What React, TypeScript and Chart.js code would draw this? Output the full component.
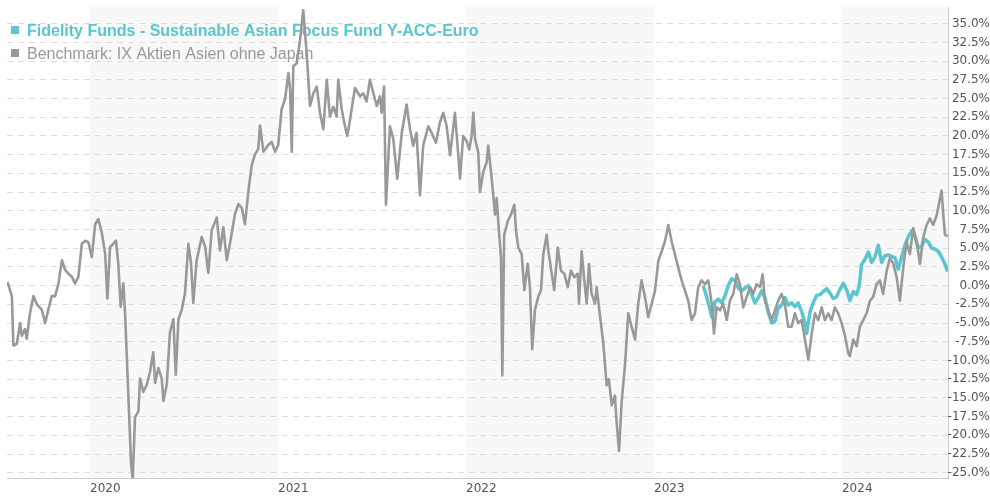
import React, { useEffect, useRef } from 'react';
import { Chart, registerables } from 'chart.js';

Chart.register(...registerables);

const FUND_NAME = 'Fidelity Funds - Sustainable Asian Focus Fund Y-ACC-Euro';
const BENCH_NAME = 'Benchmark: IX Aktien Asien ohne Japan';
const FUND_COLOR = '#5bc6cd';
const BENCH_COLOR = '#999999';

const YEAR_TICKS = [2020, 2021, 2022, 2023, 2024];
const SHADED_YEARS = [2020, 2022, 2024];
const X_MIN = 2019.558;
const X_MAX = 2024.564;
const Y_MIN = -25.7;
const Y_MAX = 37.2;

// [decimal year, % performance]
const BENCHMARK: [number, number][] = [
  [2019.560, 0.5], [2019.584, -1.4], [2019.592, -8.0], [2019.610, -7.8], [2019.628, -5.0], [2019.637, -6.7],
  [2019.654, -5.8], [2019.663, -7.1], [2019.681, -3.6], [2019.699, -1.4], [2019.717, -2.5], [2019.743, -3.2],
  [2019.761, -5.0], [2019.778, -3.2], [2019.796, -1.4], [2019.814, -1.4], [2019.832, 0.3], [2019.850, 3.4],
  [2019.867, 2.1], [2019.885, 1.6], [2019.903, 1.2], [2019.920, 0.3], [2019.938, 1.2], [2019.956, 5.6],
  [2019.974, 6.0], [2019.991, 5.8], [2020.009, 3.8], [2020.027, 8.2], [2020.044, 8.9], [2020.062, 7.1],
  [2020.080, 4.3], [2020.092, -1.7], [2020.106, 5.1], [2020.124, 5.6], [2020.138, 6.0], [2020.150, 2.9],
  [2020.163, -2.8], [2020.177, 0.3], [2020.186, -3.6], [2020.195, -9.3], [2020.207, -16.8], [2020.218, -23.8],
  [2020.227, -25.8], [2020.239, -17.6], [2020.257, -16.8], [2020.266, -12.4], [2020.283, -14.2], [2020.301, -13.3],
  [2020.319, -11.5], [2020.336, -8.9], [2020.346, -13.0], [2020.363, -11.0], [2020.381, -12.4], [2020.390, -15.4],
  [2020.408, -13.2], [2020.425, -6.2], [2020.443, -4.5], [2020.456, -11.9], [2020.470, -4.5], [2020.488, -3.2],
  [2020.505, -1.0], [2020.523, 5.6], [2020.537, 3.0], [2020.549, -2.3], [2020.567, 3.4], [2020.594, 6.5],
  [2020.612, 5.2], [2020.629, 1.7], [2020.647, 7.4], [2020.674, 9.1], [2020.691, 4.7], [2020.709, 7.8],
  [2020.727, 3.4], [2020.744, 5.6], [2020.771, 9.6], [2020.789, 10.9], [2020.807, 10.4], [2020.824, 8.2],
  [2020.842, 12.6], [2020.860, 16.1], [2020.877, 17.5], [2020.895, 18.3], [2020.904, 21.4], [2020.922, 17.9],
  [2020.948, 18.8], [2020.966, 19.2], [2020.984, 17.9], [2021.001, 18.8], [2021.019, 23.6], [2021.037, 24.9],
  [2021.055, 28.4], [2021.064, 26.2], [2021.073, 17.9], [2021.081, 29.3], [2021.099, 29.7], [2021.117, 32.8],
  [2021.134, 36.8], [2021.152, 31.1], [2021.170, 24.0], [2021.188, 25.7], [2021.206, 26.6], [2021.223, 23.1],
  [2021.241, 20.9], [2021.259, 27.5], [2021.276, 22.6], [2021.294, 23.9], [2021.312, 22.6], [2021.320, 27.5],
  [2021.339, 23.5], [2021.356, 21.3], [2021.368, 20.0], [2021.383, 22.2], [2021.409, 26.4], [2021.436, 25.3],
  [2021.453, 25.7], [2021.471, 24.6], [2021.489, 27.5], [2021.507, 25.7], [2021.525, 24.0], [2021.542, 25.3],
  [2021.551, 23.1], [2021.564, 26.6], [2021.574, 10.8], [2021.595, 21.3], [2021.613, 19.6], [2021.634, 14.3],
  [2021.658, 20.4], [2021.684, 24.2], [2021.702, 20.9], [2021.719, 18.7], [2021.737, 20.4], [2021.755, 12.1],
  [2021.772, 18.7], [2021.799, 21.3], [2021.817, 20.4], [2021.840, 19.1], [2021.861, 21.8], [2021.879, 23.1],
  [2021.897, 21.3], [2021.915, 17.4], [2021.941, 23.1], [2021.959, 17.4], [2021.968, 14.3], [2021.985, 20.0],
  [2022.003, 19.3], [2022.017, 18.2], [2022.030, 20.0], [2022.039, 23.1], [2022.048, 19.6], [2022.065, 17.8],
  [2022.074, 12.5], [2022.092, 15.2], [2022.110, 16.5], [2022.118, 18.7], [2022.133, 15.2], [2022.145, 12.1],
  [2022.154, 9.5], [2022.163, 11.7], [2022.175, 7.3], [2022.186, 3.8], [2022.193, -12.0], [2022.203, 6.8],
  [2022.222, 8.6], [2022.239, 9.5], [2022.257, 10.8], [2022.266, 7.3], [2022.278, 5.1], [2022.296, 4.2],
  [2022.310, -0.6], [2022.328, 2.9], [2022.340, -0.2], [2022.352, -8.5], [2022.367, -3.2], [2022.384, -1.5],
  [2022.399, -0.6], [2022.411, 4.2], [2022.429, 6.8], [2022.438, 4.6], [2022.456, 1.6], [2022.469, -0.6],
  [2022.488, 5.1], [2022.505, 2.0], [2022.523, 1.6], [2022.541, -0.2], [2022.558, 2.0], [2022.576, 1.1],
  [2022.594, 1.6], [2022.601, -2.4], [2022.615, 4.6], [2022.629, 0.7], [2022.642, -2.4], [2022.654, 2.9],
  [2022.668, -1.1], [2022.686, -2.4], [2022.695, -0.2], [2022.713, -4.1], [2022.730, -7.6], [2022.748, -13.3],
  [2022.760, -12.5], [2022.775, -16.0], [2022.792, -14.7], [2022.801, -18.2], [2022.814, -22.1], [2022.828, -15.5],
  [2022.846, -10.5], [2022.863, -3.7], [2022.881, -5.5], [2022.899, -7.2], [2022.916, -2.4], [2022.934, 0.7],
  [2022.952, -1.5], [2022.969, -4.2], [2022.988, -2.4], [2023.005, -0.7], [2023.023, 3.3], [2023.041, 4.6],
  [2023.058, 5.9], [2023.076, 8.1], [2023.094, 5.9], [2023.111, 4.2], [2023.129, 2.4], [2023.147, 0.7],
  [2023.165, -0.7], [2023.182, -2.0], [2023.200, -4.6], [2023.218, -3.7], [2023.235, -0.2], [2023.253, 0.7],
  [2023.271, 0.2], [2023.289, 0.7], [2023.307, -2.4], [2023.319, -6.4], [2023.333, -2.9], [2023.351, -3.3],
  [2023.368, -2.4], [2023.387, -4.6], [2023.404, -2.0], [2023.422, -1.1], [2023.440, 1.5], [2023.457, 0.2],
  [2023.475, -2.9], [2023.493, -1.5], [2023.511, -0.2], [2023.528, -1.1], [2023.546, 0.2], [2023.564, -0.2],
  [2023.578, 1.5], [2023.590, -2.0], [2023.608, -3.3], [2023.626, -4.6], [2023.643, -3.3], [2023.661, -2.0],
  [2023.679, -1.1], [2023.697, -2.6], [2023.714, -5.5], [2023.732, -5.5], [2023.750, -3.7], [2023.767, -5.0],
  [2023.785, -4.6], [2023.803, -7.2], [2023.821, -9.9], [2023.839, -6.4], [2023.856, -3.7], [2023.874, -4.6],
  [2023.892, -2.9], [2023.909, -4.6], [2023.927, -3.7], [2023.945, -4.6], [2023.962, -2.9], [2023.980, -3.7],
  [2023.998, -5.0], [2024.016, -6.7], [2024.033, -9.0], [2024.042, -9.4], [2024.060, -7.2], [2024.078, -8.1],
  [2024.095, -5.5], [2024.113, -4.6], [2024.131, -3.7], [2024.149, -2.0], [2024.166, -1.5], [2024.184, 0.2],
  [2024.202, 0.7], [2024.219, -1.1], [2024.238, 2.0], [2024.255, 3.7], [2024.273, 2.9], [2024.291, 1.1],
  [2024.308, -2.0], [2024.326, 2.4], [2024.344, 5.9], [2024.361, 4.2], [2024.379, 7.7], [2024.397, 5.9],
  [2024.415, 2.9], [2024.432, 6.4], [2024.450, 8.1], [2024.468, 9.0], [2024.485, 8.1], [2024.504, 9.4],
  [2024.521, 11.6], [2024.530, 12.7], [2024.539, 9.4], [2024.548, 6.8], [2024.564, 6.6],
];

const FUND: [number, number][] = [
  [2023.262, 0.0], [2023.280, -1.5], [2023.298, -3.2], [2023.308, -4.2], [2023.324, -2.2], [2023.342, -1.8],
  [2023.360, -2.3], [2023.377, -1.4], [2023.395, 0.0], [2023.413, 0.9], [2023.431, 0.7], [2023.448, -0.3],
  [2023.466, -0.7], [2023.484, -0.3], [2023.502, 0.0], [2023.520, -1.2], [2023.537, -2.3], [2023.555, -1.6],
  [2023.573, -0.7], [2023.590, -1.6], [2023.608, -3.6], [2023.626, -5.0], [2023.643, -4.8], [2023.661, -3.0],
  [2023.679, -2.6], [2023.697, -1.6], [2023.714, -2.6], [2023.732, -2.3], [2023.750, -2.8], [2023.767, -2.3],
  [2023.785, -3.4], [2023.803, -5.0], [2023.812, -6.4], [2023.830, -3.5], [2023.847, -2.3], [2023.865, -1.3],
  [2023.883, -1.2], [2023.900, -0.8], [2023.918, -0.4], [2023.936, -1.0], [2023.953, -1.7], [2023.971, -1.5],
  [2023.989, -0.5], [2024.007, 0.3], [2024.025, -0.6], [2024.042, -2.0], [2024.060, -0.8], [2024.078, -1.2],
  [2024.092, 0.0], [2024.104, 2.8], [2024.122, 3.5], [2024.140, 4.5], [2024.158, 3.1], [2024.175, 3.8],
  [2024.193, 5.4], [2024.211, 3.1], [2024.228, 4.0], [2024.246, 4.1], [2024.264, 3.9], [2024.282, 3.7],
  [2024.299, 2.2], [2024.317, 3.8], [2024.335, 5.4], [2024.352, 6.5], [2024.370, 7.3], [2024.388, 6.6],
  [2024.405, 5.0], [2024.424, 5.3], [2024.441, 6.2], [2024.459, 5.8], [2024.477, 5.0], [2024.494, 4.9],
  [2024.512, 4.6], [2024.530, 3.8], [2024.548, 2.9], [2024.561, 1.9],
];

const yearBandPlugin = {
  id: 'yearBands',
  beforeDraw(chart: any) {
    const { ctx, chartArea, scales } = chart;
    const x = scales.x;
    ctx.save();
    ctx.fillStyle = '#f8f8f8';
    for (const yr of SHADED_YEARS) {
      const x0 = Math.max(x.getPixelForValue(yr), chartArea.left);
      const x1 = Math.min(x.getPixelForValue(yr + 1), chartArea.right);
      if (x1 > x0) ctx.fillRect(x0, chartArea.top, x1 - x0, chartArea.bottom - chartArea.top);
    }
    ctx.restore();
  },
};

const legendPlugin = {
  id: 'innerLegend',
  beforeDatasetsDraw(chart: any) {
    const ctx = chart.ctx;
    ctx.save();
    ctx.textBaseline = 'alphabetic';
    ctx.textAlign = 'left';
    ctx.fillStyle = FUND_COLOR;
    ctx.fillRect(11, 26, 8, 8);
    ctx.font = 'bold 16px "Liberation Sans", Arial, sans-serif';
    ctx.fillText(FUND_NAME, 27, 36);
    ctx.fillStyle = BENCH_COLOR;
    ctx.fillRect(11, 49, 8, 8);
    ctx.font = '16px "Liberation Sans", Arial, sans-serif';
    ctx.fillText(BENCH_NAME, 27, 59);
    ctx.restore();
  },
};

export default function App() {
  const canvasRef = useRef<HTMLCanvasElement | null>(null);

  useEffect(() => {
    if (!canvasRef.current) return;
    const tickFont = { family: '"DejaVu Sans", Verdana, sans-serif', size: 12 };
    const chart = new Chart(canvasRef.current, {
      type: 'line',
      data: {
        datasets: [
          {
            label: BENCH_NAME,
            data: BENCHMARK.map(([x, y]) => ({ x, y })),
            borderColor: BENCH_COLOR,
            borderWidth: 2.6,
            pointRadius: 0,
            tension: 0,
            fill: false,
            order: 0,
            borderJoinStyle: 'round',
          },
          {
            label: FUND_NAME,
            data: FUND.map(([x, y]) => ({ x, y })),
            borderColor: FUND_COLOR,
            borderWidth: 3.5,
            pointRadius: 0,
            tension: 0,
            fill: false,
            order: 1,
            borderJoinStyle: 'round',
          },
        ],
      },
      options: {
        responsive: false,
        animation: false,
        events: [],
        layout: { padding: { left: 7, right: 0, top: 0, bottom: 0 } },
        plugins: { legend: { display: false }, tooltip: { enabled: false } },
        scales: {
          x: {
            type: 'linear',
            min: X_MIN,
            max: X_MAX,
            afterBuildTicks: (scale: any) => {
              scale.ticks = YEAR_TICKS.map((v) => ({ value: v }));
            },
            afterFit: (scale: any) => {
              scale.height = 22;
            },
            grid: { display: false, drawTicks: false },
            border: { display: true, color: '#d0d0d0', width: 1 },
            ticks: {
              autoSkip: false,
              maxRotation: 0,
              align: 'start',
              padding: 4,
              color: '#555',
              font: tickFont,
              callback: (v: any) => String(v),
            },
          },
          y: {
            type: 'linear',
            position: 'right',
            min: Y_MIN,
            max: Y_MAX,
            afterFit: (scale: any) => {
              scale.width = 42;
            },
            grid: { color: '#dddddd', drawTicks: false, lineWidth: 1 },
            border: { display: true, color: '#d0d0d0', width: 1, dash: [6, 5] },
            ticks: {
              stepSize: 2.5,
              includeBounds: false,
              crossAlign: 'far',
              padding: 0,
              color: '#555',
              font: tickFont,
              callback: (v: any) => Number(v).toFixed(1) + '%',
            },
          },
        },
      },
      plugins: [yearBandPlugin, legendPlugin],
    } as any);
    return () => chart.destroy();
  }, []);

  return (
    <div style={{ position: 'absolute', left: 0, top: 0, width: 990, height: 500, overflow: 'hidden', background: '#fff' }}>
      <canvas ref={canvasRef} width={990} height={500} style={{ display: 'block' }} />
    </div>
  );
}
